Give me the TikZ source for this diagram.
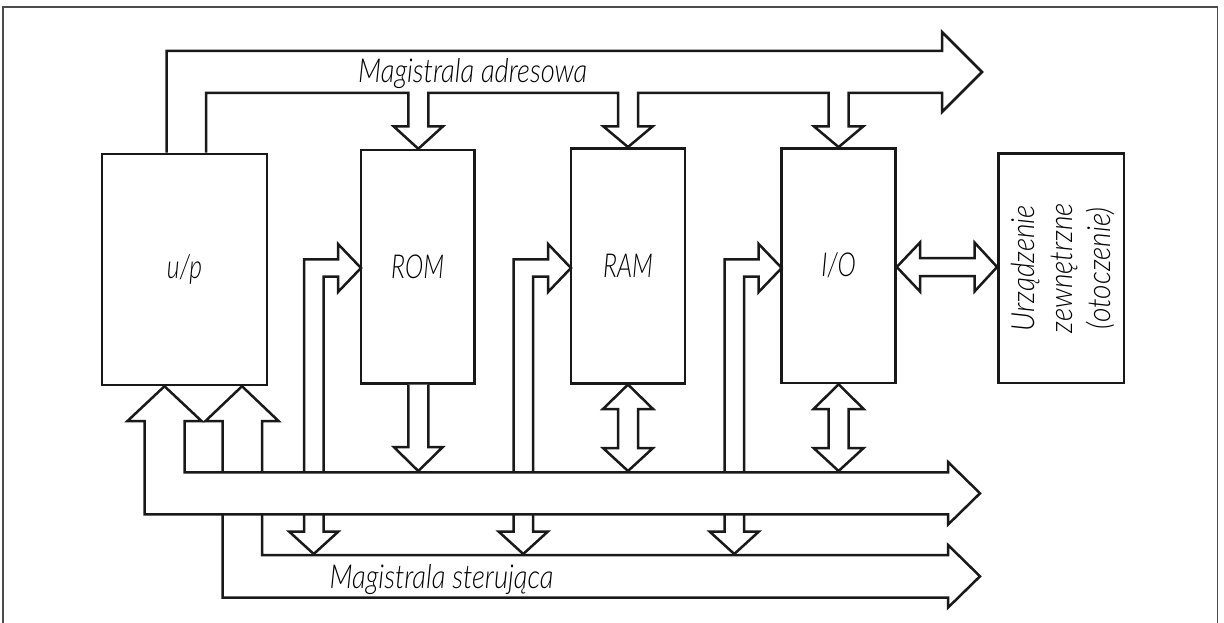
\documentclass[tikz,border=0pt]{standalone}
\usepackage{fontspec}
\newfontfamily\tf{Lato Light}
\newcommand\cond[1]{\scalebox{0.75}[1]{#1}}
\newcommand\condb[1]{\scalebox{0.83}[1]{#1}}
\newcommand\condc[1]{\scalebox{0.88}[1]{#1}}
\begin{document}
\begin{tikzpicture}[x=1pt,y=-1pt,
  bus/.style={draw=black!90, line width=2.5pt, fill=white, line join=miter, miter limit=4},
  box/.style={draw=black!90, line width=2.5pt, fill=white, inner sep=0pt, text=black,
    font=\tf\itshape\fontsize{33}{36}\selectfont},
  lbl/.style={inner sep=0pt, text=black, font=\tf\itshape\fontsize{33}{36}\selectfont}]
\useasboundingbox (0,0) rectangle (1224,623);
% frame
\draw[line width=1.5pt, black!70] (3,623) -- (3,7) -- (1217.5,7) -- (1217.5,623);
% blocks
\node[box, minimum width=165pt, minimum height=231pt] (up) at (184.5,269.5) {\cond{u/p}};
\node[box, minimum width=113.3pt, minimum height=233.3pt] (rom) at (417.7,266.7) {\cond{ROM}};
\node[box, minimum width=114pt, minimum height=235pt] (ram) at (628,265.8) {\cond{RAM}};
\node[box, minimum width=113.8pt, minimum height=234.7pt] (io) at (838.6,265.7) {\cond{I/O}};
\node[box, minimum width=125.7pt, minimum height=229.7pt] (ext) at (1061.2,268.2) {};
\node[lbl, rotate=90, align=center, font=\tf\itshape\fontsize{32}{38}\selectfont] (exttxt) at ([xshift=2pt]ext.center)
  {\condc{Urządzenie}\\\condc{zewnętrzne}\\\condc{(otoczenie)}};
% control bus (under data bus)
\filldraw[bus] (222.5,597.7) -- (222.5,421) -- (205.5,421) -- (242,0 |- up.south) -- (278.5,421)
  -- (262,421) -- (262,555) -- (948,555) -- (948,545) -- (980,576.3) -- (948,607.6)
  -- (948,597.7) -- cycle;
% L-shaped control channels into ROM, RAM, I/O
\foreach \a/\t in {304/361, 513.5/571, 724.5/781.7}{
  \filldraw[bus] (\a,531.7) -- (\a,259.3) -- (\t-23,259.3) -- (\t-23,244) -- (\t,268)
    -- (\t-23,292) -- (\t-23,276.7) -- (\a+19.5,276.7) -- (\a+19.5,531.7)
    -- (\a+34.2,531.7) -- (\a+9.75,554) -- (\a-14.7,531.7) -- cycle;
}
% data bus
\filldraw[bus] (144.5,514.3) -- (144.5,421) -- (127.5,421) -- (164.5,0 |- up.south) -- (201.5,421)
  -- (184.5,421) -- (184.5,472.3) -- (948,472.3) -- (948,462) -- (980,493.3) -- (948,524.6)
  -- (948,514.3) -- cycle;
% address bus
\filldraw[bus] (166.7,0 |- up.north) -- (166.7,51) -- (942,51) -- (942,32) -- (982,72) -- (942,112) -- (942,93)
  -- (848.6,93) -- (848.6,126.5) -- (863.1,126.5) -- (838.6,0 |- io.north) -- (814.1,126.5) -- (828.6,126.5) -- (828.6,93)
  -- (638,93) -- (638,126.5) -- (652.5,126.5) -- (628,0 |- ram.north) -- (603.5,126.5) -- (618,126.5) -- (618,93)
  -- (428.3,93) -- (428.3,126.5) -- (442.8,126.5) -- (418.3,0 |- rom.north) -- (393.8,126.5) -- (408.3,126.5) -- (408.3,93)
  -- (206,93) -- (206,0 |- up.north);
% ROM -> data bus
\filldraw[bus] (408.3,0 |- rom.south) -- (408.3,447) -- (393.8,447) -- (418.3,471) -- (442.8,447)
  -- (428.3,447) -- (428.3,0 |- rom.south);
% RAM <-> data bus
\filldraw[bus] (628,0 |- ram.south) -- (653,409) -- (638,409) -- (638,448) -- (653,448) -- (628,471)
  -- (603,448) -- (618,448) -- (618,409) -- (603,409) -- cycle;
% I/O <-> data bus
\filldraw[bus] (838.6,0 |- io.south) -- (863.6,409) -- (848.6,409) -- (848.6,448) -- (863.6,448) -- (838.6,471)
  -- (813.6,448) -- (828.6,448) -- (828.6,409) -- (813.6,409) -- cycle;
% I/O <-> external device
\filldraw[bus] (io.east |- 0,267) -- (920,242.5) -- (920,258) -- (974.5,258) -- (974.5,242.5)
  -- (ext.west |- 0,267) -- (974.5,291.5) -- (974.5,276) -- (920,276) -- (920,291.5) -- cycle;
% labels
\node[lbl, anchor=base west] (adr) at (358,83) {\condb{Magistrala adresowa}};
\node[lbl, anchor=base west] (ster) at (329.3,588.3) {\condb{Magistrala sterująca}};
\end{tikzpicture}
\end{document}
